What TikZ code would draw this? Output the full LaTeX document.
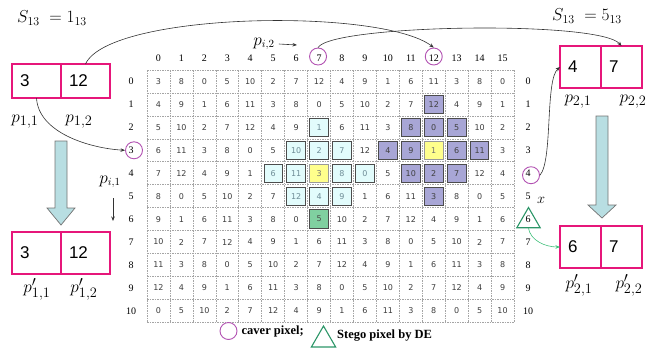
\documentclass[tikz,border=0pt]{standalone}
\usepackage{fontspec}
\setmainfont{Liberation Serif}
\newfontfamily\cellfont{DejaVu Sans}
\newfontfamily\boxfont{Liberation Sans}
\usepackage{tikz}
\usetikzlibrary{arrows.meta, positioning, shapes.geometric}

\definecolor{boxpink}{RGB}{230,22,122}
\definecolor{caverpurple}{RGB}{178,82,178}
\definecolor{stegogreen}{RGB}{44,150,104}
\definecolor{linkgreen}{RGB}{60,190,120}
\definecolor{gridgray}{RGB}{165,165,165}
\definecolor{nbcyan}{RGB}{226,252,252}
\definecolor{nbpurple}{RGB}{168,166,214}
\definecolor{cenyellow}{RGB}{255,255,140}
\definecolor{embgreen}{RGB}{128,208,160}
\definecolor{arrowblue}{RGB}{184,222,226}
\definecolor{numgray}{RGB}{60,60,60}
\definecolor{cyantext}{RGB}{110,140,150}

\newcommand{\gridL}{147}
\newcommand{\gridT}{70}
\newcommand{\cellw}{22.94}

\tikzset{
  pixbox/.style={rectangle, draw=boxpink, line width=1.1pt, outer sep=0pt, inner ysep=0pt,
    inner xsep=8pt, align=left, font=\boxfont\fontsize{17}{17}\selectfont},
  lbox/.style={pixbox, text width=33pt, minimum height=#1},
  rbox/.style={pixbox, text width=25pt, minimum height=42pt},
  cell/.style={rectangle, minimum size=18.5pt, inner sep=0pt, text=numgray,
    font=\cellfont\fontsize{8}{8}\selectfont},
  kind/.style={kind#1},
  kind0/.style={},
  kind1/.style={draw=black!70, line width=0.8pt, fill=nbcyan, text=cyantext},
  kind2/.style={draw=black!70, line width=0.8pt, fill=nbpurple, text=black!75},
  kind3/.style={draw=black!40, line width=0.8pt, fill=cenyellow, text=black!55},
  kind4/.style={draw=black!70, line width=0.8pt, fill=embgreen, text=black!70},
  gridline/.style={gridgray, line width=0.6pt, dash pattern=on 1.5pt off 1pt},
  idx/.style={font=\fontsize{10}{10}\selectfont, inner sep=1pt},
  caver/.style={circle, draw=caverpurple, line width=0.9pt, minimum size=17pt, inner sep=0pt},
  stego/.style={regular polygon, regular polygon sides=3, draw=stegogreen, line width=1.1pt,
    minimum size=27pt, inner sep=0pt},
  link/.style={-{Stealth[length=4.5pt, width=3.5pt]}, line width=0.6pt, black!80},
  glink/.style={link, linkgreen},
  bigarrow/.style={draw=black!55, line width=0.7pt, fill=arrowblue},
  plab/.style={font=\fontsize{19}{19}\selectfont, inner sep=0pt},
  legendtxt/.style={font=\bfseries\fontsize{12.5}{12.5}\selectfont, anchor=west, inner sep=0pt},
}

\begin{document}
\begin{tikzpicture}[x=1pt, y=-1pt]
\useasboundingbox (0,0) rectangle (647,351);

% table of the reference matrix
\foreach \i in {0,...,16}
  \draw[gridline] ({\gridL+\i*\cellw},\gridT) -- ({\gridL+\i*\cellw},{\gridT+11*\cellw});
\foreach \j in {0,...,11}
  \draw[gridline] (\gridL,{\gridT+\j*\cellw}) -- ({\gridL+16*\cellw},{\gridT+\j*\cellw});

\foreach \r in {0,...,10}{
  \foreach \c in {0,...,15}{
    \pgfmathtruncatemacro{\v}{mod(3+\r+5*\c,13)}
    \pgfmathtruncatemacro{\dA}{abs(\r-4)+abs(\c-7)}
    \pgfmathtruncatemacro{\dB}{abs(\r-3)+abs(\c-12)}
    \pgfmathtruncatemacro{\k}{(\dA==0||\dB==0) ? 3 : ((\r==6 && \c==7) ? 4 : (\dA<=2 ? 1 : (\dB<=2 ? 2 : 0)))}
    \node[cell, kind/.expanded=\k] (g-\r-\c) at ({\gridL+(\c+0.5)*\cellw},{\gridT+(\r+0.5)*\cellw}) {\v};
  }
}

% indices
\foreach \c in {0,...,15}
  \node[idx] (h\c) at ({\gridL+(\c+0.5)*\cellw},58) {\c};
\foreach \r in {0,...,10}{
  \node[idx] (l\r) at (131,{\gridT+(\r+0.5)*\cellw}) {\r};
  \node[idx] (rr\r) at (528,{\gridT+(\r+0.5)*\cellw}) {\r};
}

\node[caver] (cv7) at ([xshift=-1pt, yshift=1.5pt]h7) {};
\node[caver] (cv12) at ([yshift=1.5pt]h12) {};
\node[caver] (cv3) at ([xshift=3pt]l3) {};
\node[caver] (cv4) at ([xshift=3pt, yshift=-2pt]rr4) {};
\node[stego] (tri6) at (528.5,221) {};
\node at (541,200) {\fontsize{14}{14}\selectfont$x$};

% pixel pairs
\node[lbox=34pt] (a1) at (36.5,81) {3};
\node[lbox=34pt, right=0pt of a1] (a2) {12};
\node[lbox=42pt, below=134pt of a1] (b1) {3};
\node[lbox=42pt, right=0pt of b1] (b2) {12};
\node[rbox] (c1) at (580.5,67) {4};
\node[rbox, right=0pt of c1] (c2) {7};
\node[rbox, below=138pt of c1] (d1) {6};
\node[rbox, right=0pt of d1] (d2) {7};

\node[plab] (pa1) at (25,122) {$p_{1,1}$};
\node[plab] (pa2) at (79,122) {$p_{1,2}$};
\node[plab] (pb1) at (37,289) {$p'_{1,1}$};
\node[plab] (pb2) at (84,289) {$p'_{1,2}$};
\node[plab] (pc1) at (578,102) {$p_{2,1}$};
\node[plab] (pc2) at (633,102) {$p_{2,2}$};
\node[plab] (pd1) at (579,285) {$p'_{2,1}$};
\node[plab] (pd2) at (629,285) {$p'_{2,2}$};

\node[plab, font=\fontsize{17}{17}\selectfont] (sl) at (52,18) {$S_{13}\;=1_{13}$};
\node[plab, font=\fontsize{17}{17}\selectfont] (sr) at (587,16) {$S_{13}\;=5_{13}$};

% block arrows
\draw[bigarrow] (55,141) -- (67,141) -- (67,208) -- (75,208) -- (61,225) -- (47,208) -- (55,208) -- cycle;
\draw[bigarrow] (596,116) -- (608,116) -- (608,205) -- (616,205) -- (602,218) -- (588,205) -- (596,205) -- cycle;

% direction hints
\node[plab, font=\fontsize{16}{16}\selectfont] (pi2) at (264,44) {$p_{i,2}$};
\coordinate (pi2tip) at (297,45);
\draw[link] ([xshift=4pt]pi2.east) -- (pi2tip);
\node[plab, font=\fontsize{16}{16}\selectfont] (pi1) at (110,182) {$p_{i,1}$};
\coordinate (pi1tip) at (113,221);
\draw[link] (113,198) -- (pi1tip);

% links
\draw[link] (a2.north) .. controls +(24,-52) and +(-53,-40) .. (cv12.north);
\draw[link] (cv7.north) .. controls +(13,-23) and +(-22,-26) .. (c2.north);
\draw[link] (a1.south) .. controls +(2,35) and +(-35,-2) .. (cv3.west);
\draw[link] (cv4.east) .. controls +(13,-15) and +(-15,13) .. (c1.west);
\draw[glink] (tri6.south) .. controls +(2,12) and +(-15,0) .. (d1.west);

% legend
\node[caver] (lgc) at (228.5,331) {};
\node[legendtxt, right=4pt of lgc] (lgct) {caver pixel;};
\node[stego, minimum size=28pt] (lgt) at (323.5,340) {};
\node[legendtxt, anchor=west] (lgtt) at (337,336) {Stego pixel by DE};
\end{tikzpicture}
\end{document}
